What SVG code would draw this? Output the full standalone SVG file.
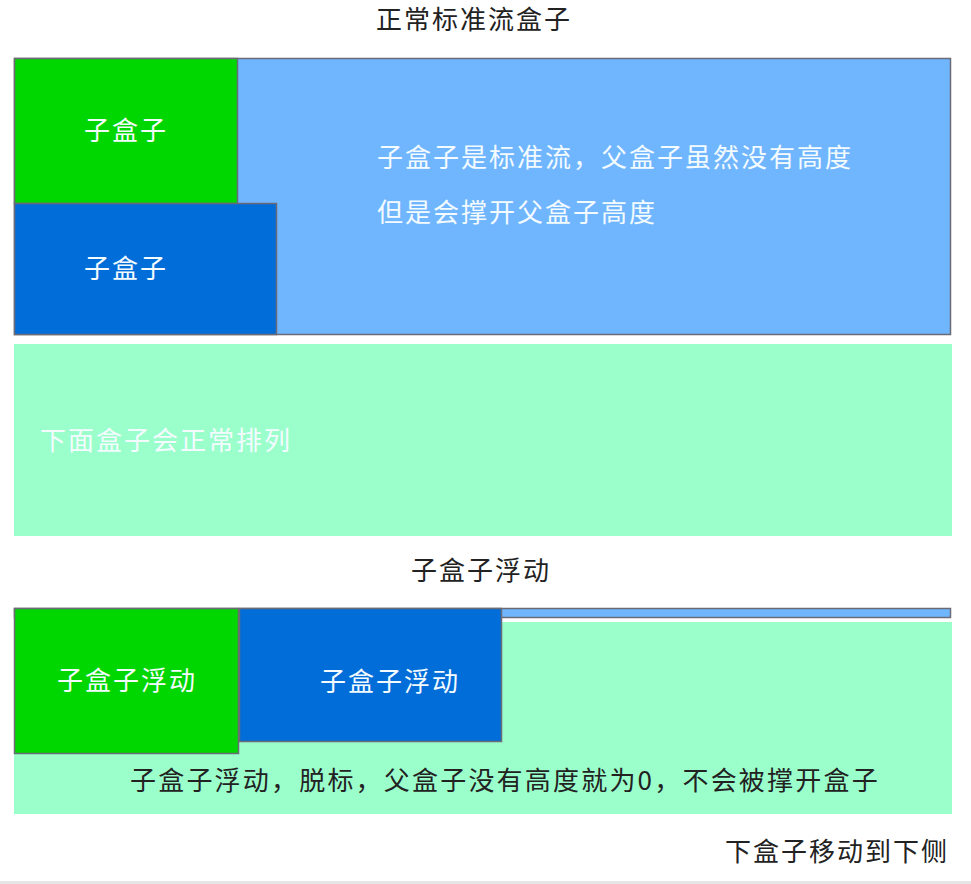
<svg xmlns="http://www.w3.org/2000/svg" width="971" height="884" viewBox="0 0 971 884">
<style>
.t{font-family:"Noto Sans CJK SC","Liberation Sans",sans-serif;font-size:26px;letter-spacing:2px;dominant-baseline:central}
.w{fill:#f4fbff}
.d{fill:#222}
.b{stroke:#6b6b78;stroke-width:1.5}
</style>
<rect width="971" height="884" fill="#ffffff"/>
<text class="t d" x="376" y="17">正常标准流盒子</text>
<g id="parent1">
<rect class="b" x="14.5" y="58.5" width="936" height="276" fill="#70b6ff"/>
<text class="t w" x="377" y="155">子盒子是标准流，父盒子虽然没有高度</text>
<text class="t w" x="377" y="210">但是会撑开父盒子高度</text>
</g>
<g id="child1">
<rect class="b" x="14.5" y="58.5" width="223" height="145" fill="#00d600"/>
<text class="t w" x="84" y="128">子盒子</text>
</g>
<g id="child2">
<rect class="b" x="14.5" y="203.5" width="262" height="131" fill="#006dd8"/>
<text class="t w" x="84" y="266">子盒子</text>
</g>
<g id="below1">
<rect x="14" y="344" width="938" height="192" fill="#9bffcc"/>
<text class="t w" x="40" y="438">下面盒子会正常排列</text>
</g>
<text class="t d" x="411" y="568">子盒子浮动</text>
<g id="parent2">
<rect class="b" x="14.5" y="608.5" width="936" height="9" fill="#70b6ff"/>
</g>
<g id="below2">
<rect x="14" y="622" width="938" height="192" fill="#9bffcc"/>
<text class="t d" x="130" y="778" style="letter-spacing:2.2px">子盒子浮动，脱标，父盒子没有高度就为0，不会被撑开盒子</text>
</g>
<g id="float1">
<rect class="b" x="14.5" y="608.5" width="224" height="145" fill="#00d600"/>
<text class="t w" x="57" y="678">子盒子浮动</text>
</g>
<g id="float2">
<rect class="b" x="239.5" y="608.5" width="262" height="133" fill="#006dd8"/>
<text class="t w" x="320" y="679">子盒子浮动</text>
</g>
<text class="t d" x="725" y="849">下盒子移动到下侧</text>
<rect x="0" y="881" width="971" height="3" fill="#e6e6e6"/>
<g id="connectors"/>
</svg>
